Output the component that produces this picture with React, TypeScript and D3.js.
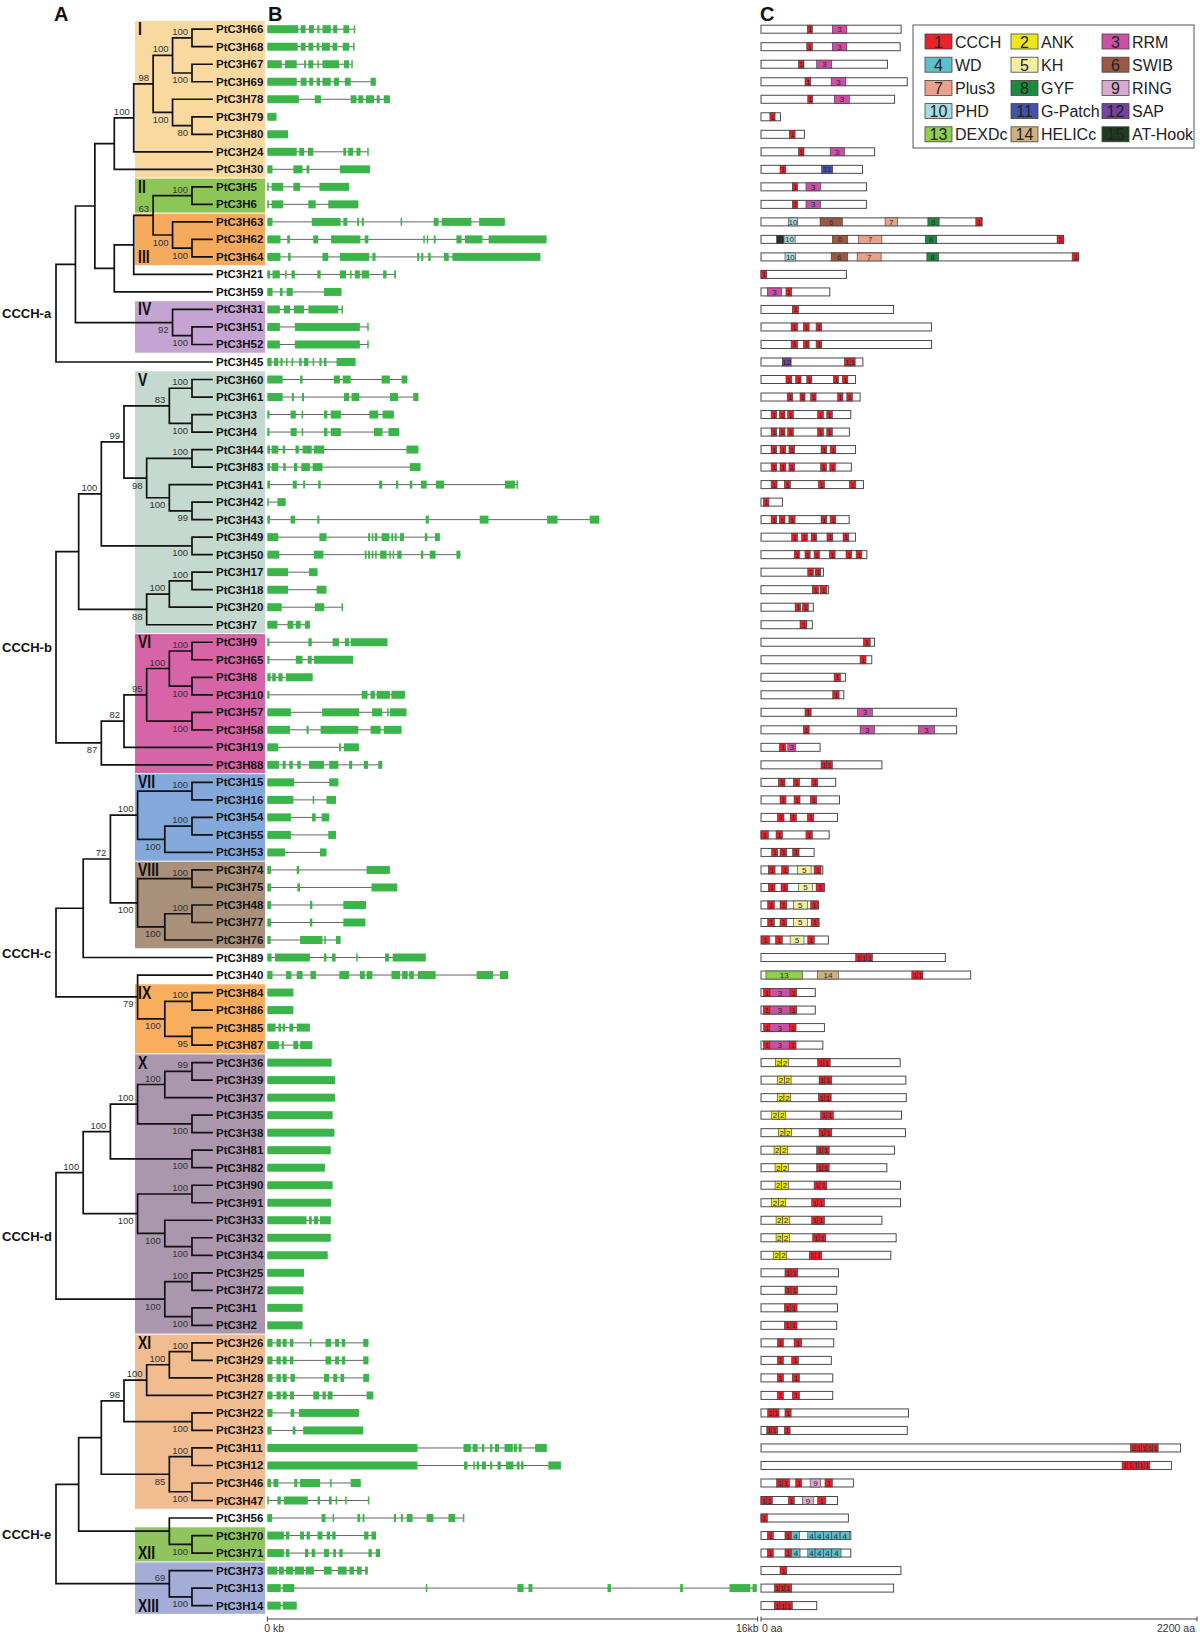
import React from 'react';
import * as d3 from 'd3';

// ---------------- DATA ----------------
const GENE_PREFIX = 'PtC3H';
const groupNames = ['CCCH-a', 'CCCH-b', 'CCCH-c', 'CCCH-d', 'CCCH-e'];
// Newick topologies with bootstrap support on internal nodes ("^" = label drawn above)
const groupTrees = [
  '((((((((66,68)100,(67,69)100)100,(78,(79,80)80)100)98,24)100,30),((((5,6)100,(63,(62,64)100)100)63,21),59)),(31,(51,52)100)92),45)',
  '((((((60,61)100,(3,4)100)83,((44,83)100,(41,(42,43)99)100)98)99,(49,50)100)100,(((17,18)100,20)100,7)88),(((((9,65)100,(8,10)100)100,(57,58)100)95,19)82,88)87)',
  '(((((15,16)100,((54,55)100,53)100)100,((74,75)100,((48,77)100,76)100)100)72,89),(40,((84,86)100,(85,87)95)100)79)',
  '((((((36,39)99,37)100,(35,38)100)100,(81,82)100)100,((90,91)100,(33,(32,34)100)100)100)100,((25,72)100,(1,2)100)100)',
  '(((((((26,29)100,28)100,27)100,(22,23)100)98,((11,12)100,(46,47)100)85),(56,(70,71)100)),(73,(13,14)100)69^)',
];

const cladeNames = ['I', 'II', 'III', 'IV', 'V', 'VI', 'VII', 'VIII', 'IX', 'X', 'XI', 'XII', 'XIII'];
const cladeFirst = ['66', '5', '63', '31', '60', '9', '15', '74', '84', '36', '26', '70', '73'];
const cladeLast = ['30', '6', '64', '52', '7', '88', '53', '76', '87', '2', '47', '71', '14'];
const cladeColors = ['#f9d9a0', '#8dc657', '#f6aa5e', '#c5a4d3', '#c4d9cf', '#d864a8', '#83a9da', '#a8907a', '#f9ae5d', '#aa97ae', '#f1bd90', '#90c45e', '#a4add7'];
const cladeLabelBottom = ['III', 'XII', 'XIII'];

const domainNames = ['CCCH', 'ANK', 'RRM', 'WD', 'KH', 'SWIB', 'Plus3', 'GYF', 'RING', 'PHD', 'G-Patch', 'SAP', 'DEXDc', 'HELICc', 'AT-Hook'];
const domainColors = ['#e8212b', '#ede61f', '#cd4fa6', '#5cc0cc', '#f2eea2', '#9b5944', '#eaa18b', '#1c8b3d', '#d8abce', '#abdadd', '#4453a9', '#7442a1', '#90cf4b', '#ceb17f', '#1f3b1f'];

// exon coordinates in kb
const geneExons: [string, string][] = [
  ['66', '0-1.01 1.09-1.25 1.36-1.52 1.63-1.7 1.8-2.07 2.15-2.28 2.48-2.67 2.82-2.86'],
  ['68', '0-0.99 1.09-1.25 1.34-1.5 1.61-1.7 1.78-2.04 2.13-2.28 2.46-2.67 2.8-2.84'],
  ['67', '0-0.47 0.58-0.96 1.2-1.26 1.34-1.5 1.63-1.67 1.8-2.34 2.5-2.67 2.74-2.77'],
  ['69', '0-0.96 1.09-1.28 1.37-1.5 1.61-1.72 1.8-2.07 2.17-2.34 2.53-2.72 3.37-3.54'],
  ['78', '0-1.03 1.55-1.75 2.72-2.91 2.97-3.13 3.22-3.48 3.57-3.67 3.8-4.0'],
  ['79', '0-0.3'],
  ['80', '0-0.68'],
  ['24', '0-0.96 1.04-1.2 1.32-1.5 2.48-2.57 2.64-2.8 2.91-3.04 3.26-3.3'],
  ['30', '0-0.17 0.85-1.15 1.28-1.37 2.37-3.35'],
  ['5', '0-0.05 0.14-0.52 0.85-1.07 1.7-2.67'],
  ['6', '0-0.05 0.14-0.52 1.34-1.58 1.99-2.97'],
  ['63', '0-0.17 1.45-2.39 2.48-2.61 2.93-2.99 3.08-3.15 4.35-4.4 5.43-5.59 5.69-6.66 6.91-7.75'],
  ['62', '0-0.43 0.65-0.74 1.5-1.66 2.08-3.04 3.18-3.3 5.09-5.13 5.2-5.24 5.43-5.49 6.17-6.34 6.45-7.02 7.22-9.11'],
  ['64', '0-0.43 0.68-0.76 1.8-1.99 2.37-3.32 3.43-3.53 4.89-4.96 5.02-5.09 5.25-5.33 5.76-5.92 6.04-8.91'],
  ['21', '0-0.09 0.17-0.41 0.58-0.63 0.79-0.9 1.63-1.74 2.37-2.57 2.7-2.75 2.86-3.02 3.08-3.32 3.78-3.89 4.14-4.2'],
  ['59', '0-0.17 0.41-0.5 0.63-0.83 1.85-2.42'],
  ['31', '0-0.41 0.54-0.74 0.87-1.2 1.34-2.32 2.42-2.45'],
  ['51', '0-0.41 0.9-3.02 3.26-3.3'],
  ['52', '0-0.41 0.9-3.02 3.26-3.3'],
  ['45', '0-0.14 0.22-0.36 0.43-0.5 0.61-0.65 0.79-0.83 1.04-1.12 1.2-1.34 1.48-1.52 1.7-1.77 1.85-1.93 2.26-2.88'],
  ['60', '0-0.5 1.07-1.15 2.17-2.37 2.46-2.72 3.73-4.0 4.38-4.57'],
  ['61', '0-0.5 0.8-0.87 1.13-1.2 2.5-2.67 2.75-3.0 4.0-4.27 4.76-4.93'],
  ['3', '0-0.07 0.76-0.93 1.12-1.17 1.85-1.96 2.07-2.4 3.33-3.62 3.76-4.13'],
  ['4', '0-0.07 0.76-0.96 1.12-1.17 1.85-1.96 2.07-2.4 3.48-3.76 3.95-4.3'],
  ['44', '0-0.09 0.14-0.36 0.5-0.58 0.92-1.03 1.15-1.45 1.52-1.86 4.54-4.93'],
  ['83', '0-0.09 0.14-0.36 0.52-0.6 0.87-0.98 1.11-1.39 1.48-1.8 4.65-5.0'],
  ['41', '0-0.09 0.83-0.96 1.17-1.23 1.66-1.74 3.65-3.75 4.2-4.27 4.65-4.73 5.01-5.2 5.5-5.77 7.75-8.08 8.13-8.18'],
  ['42', '0-0.03 0.33-0.6'],
  ['43', '0-0.09 0.76-0.91 1.63-1.7 5.17-5.27 6.93-7.22 9.13-9.47 10.52-10.83'],
  ['49', '0-0.36 1.7-1.93 3.29-3.35 3.41-3.46 3.51-3.59 3.73-3.98 4.05-4.11 4.16-4.22 4.33-4.46 5.14-5.22 5.47-5.63'],
  ['50', '0-0.39 1.52-1.83 3.18-3.24 3.29-3.35 3.41-3.46 3.52-3.57 3.68-3.89 3.98-4.03 4.09-4.14 4.24-4.38 5.01-5.09 5.3-5.49 6.17-6.3'],
  ['17', '0-0.68 1.36-1.64'],
  ['18', '0-0.68 1.61-1.93'],
  ['20', '0-0.47 1.55-1.86 2.42-2.46'],
  ['7', '0-0.33 0.66-0.85 0.93-1.09 1.23-1.39'],
  ['9', '0-0.07 1.34-1.45 2.13-2.34 2.53-2.67 2.72-3.92'],
  ['65', '0-0.07 0.93-1.15 1.32-1.45 1.52-2.8'],
  ['8', '0-0.11 0.16-0.28 0.36-0.5 0.61-1.48'],
  ['10', '0-0.07 3.08-3.27 3.37-3.51 3.57-4.0 4.05-4.49'],
  ['57', '0-0.77 1.79-3.0 3.42-3.75 3.91-3.95 4.0-4.54'],
  ['58', '0-0.74 1.28-1.35 1.74-2.97 3.37-3.7 3.8-4.38'],
  ['19', '0-0.36 2.34-2.4 2.5-2.99'],
  ['88', '0-0.38 0.5-0.6 0.72-0.83 0.98-1.09 1.36-1.85 2.02-2.32 2.67-2.77 3.15-3.29 3.62-3.75'],
  ['15', '0-0.88 2.02-2.32'],
  ['16', '0-0.85 1.48-1.53 1.93-2.24'],
  ['54', '0-0.77 1.46-1.58 1.77-2.02'],
  ['55', '0-0.77 1.99-2.24'],
  ['53', '0-0.58 1.72-1.93'],
  ['74', '0-0.12 0.96-1.04 3.24-4.0'],
  ['75', '0-0.12 0.98-1.07 3.4-4.24'],
  ['48', '0-0.12 1.39-1.47 2.48-3.22'],
  ['77', '0-0.12 1.39-1.47 2.48-3.2'],
  ['76', '0-0.11 1.07-1.8 1.86-1.9 2.24-2.39'],
  ['89', '0-0.14 0.25-1.39 1.85-1.93 2.11-2.23 2.9-2.93 3.84-3.97 4.09-5.17'],
  ['40', '0-0.17 0.61-0.79 0.96-1.15 1.41-1.59 2.35-2.67 3.02-3.18 3.24-3.43 4.05-4.33 4.4-4.58 4.63-4.78 4.91-5.49 6.83-7.37 7.59-7.86'],
  ['84', '0-0.85'],
  ['86', '0-0.85'],
  ['85', '0-0.27 0.36-0.45 0.5-0.58 0.72-0.85 0.96-1.39'],
  ['87', '0-0.38 0.47-0.54 0.85-1.01 1.07-1.47'],
  ['36', '0-2.1'],
  ['39', '0-2.21'],
  ['37', '0-2.21'],
  ['35', '0-2.13'],
  ['38', '0-2.19'],
  ['81', '0-2.07'],
  ['82', '0-1.88'],
  ['90', '0-2.13'],
  ['91', '0-2.08'],
  ['33', '0-1.28 1.36-1.45 1.52-1.66 1.72-2.07'],
  ['32', '0-2.07'],
  ['34', '0-1.97'],
  ['25', '0-1.2'],
  ['72', '0-1.18'],
  ['1', '0-1.15'],
  ['2', '0-1.15'],
  ['26', '0-0.17 0.3-0.44 0.5-0.63 0.74-0.85 1.39-1.43 1.9-2.08 2.21-2.34 2.43-2.54 3.13-3.3'],
  ['29', '0-0.17 0.3-0.44 0.5-0.63 0.74-0.85 1.9-2.08 2.21-2.34 2.43-2.54 3.13-3.3'],
  ['28', '0-0.17 0.3-0.44 0.5-0.63 0.76-0.9 1.85-2.02 2.15-2.28 2.39-2.51 3.13-3.32'],
  ['27', '0-0.17 0.3-0.44 0.5-0.63 0.74-0.87 1.5-1.69 1.8-1.91 1.97-2.13 3.24-3.46'],
  ['22', '0-0.17 0.76-0.88 1.03-2.99'],
  ['23', '0-0.14 0.83-0.92 1.17-3.13'],
  ['11', '0-4.9 6.4-6.64 6.7-6.86 7.0-7.08 7.27-7.34 7.43-7.56 7.74-8.01 8.05-8.14 8.2-8.3 8.74-9.12'],
  ['12', '0-4.9 6.42-6.53 6.72-6.77 6.83-6.91 7.0-7.13 7.27-7.34 7.51-7.62 7.79-8.03 8.14-8.23 8.28-8.36 9.17-9.58'],
  ['46', '0-0.12 0.2-0.36 0.88-0.98 1.07-1.72 2.05-2.1 2.72-3.05'],
  ['47', '0-0.05 0.33-0.44 0.54-1.32 1.64-1.72 2.01-2.1 2.23-2.28 2.54-2.59 3.28-3.31'],
  ['56', '0-0.16 1.77-1.9 2.13-2.18 2.94-3.03 3.11-3.17 4.13-4.2 4.36-4.42 4.55-4.74 5.2-5.42 5.91-6.13 6.38-6.42'],
  ['70', '0-0.54 0.61-0.72 1.07-1.2 1.28-1.39 1.64-1.8 1.94-2.05 2.12-2.23 3.16-3.3 3.4-3.55'],
  ['71', '0-0.54 0.61-0.72 1.23-1.34 1.45-1.56 1.85-2.01 2.15-2.24 2.35-2.46 3.3-3.41 3.54-3.68'],
  ['73', '0-0.33 0.38-0.54 0.61-0.85 0.9-1.2 1.25-1.52 1.85-2.1 2.3-2.59 2.68-2.83 2.92-3.08 3.19-3.28'],
  ['13', '0-0.44 0.5-0.88 5.17-5.2 8.16-8.36 8.52-8.65 11.1-11.21 13.47-13.56 15.08-15.76 15.83-15.97'],
  ['14', '0-0.44 0.5-0.96'],
];

// protein lengths in aa
const proteinLengths: [string, number][] = [
  ['66', 707], ['68', 702], ['67', 638], ['69', 738], ['78', 674], ['79', 98], ['80', 219], ['24', 573], ['30', 512],
  ['5', 532], ['6', 532], ['63', 1115], ['62', 1527], ['64', 1603], ['21', 431], ['59', 347], ['31', 669], ['51', 860],
  ['52', 860], ['45', 514], ['60', 477], ['61', 500], ['3', 453], ['4', 446], ['44', 477], ['83', 456], ['41', 517],
  ['42', 108], ['43', 445], ['49', 477], ['50', 534], ['17', 315], ['18', 340], ['20', 264], ['7', 259], ['9', 573],
  ['65', 559], ['8', 426], ['10', 418], ['57', 987], ['58', 987], ['19', 298], ['88', 610], ['15', 377], ['16', 396],
  ['54', 386], ['55', 344], ['53', 268], ['74', 312], ['75', 320], ['48', 290], ['77', 293], ['76', 340], ['89', 930],
  ['40', 1058], ['84', 274], ['86', 274], ['85', 320], ['87', 312], ['36', 702], ['39', 731], ['37', 733], ['35', 709],
  ['38', 729], ['81', 674], ['82', 635], ['90', 704], ['91', 704], ['33', 610], ['32', 682], ['34', 655], ['25', 391],
  ['72', 382], ['1', 386], ['2', 382], ['26', 367], ['29', 355], ['28', 362], ['27', 362], ['22', 744], ['23', 738],
  ['11', 2117], ['12', 2071], ['46', 466], ['47', 386], ['56', 441], ['70', 453], ['71', 453], ['73', 706], ['13', 669],
  ['14', 281],
];

// domains: "type:start-end" in aa
const proteinDomains: [string, string][] = [
  ['66', '1:234-259 3:360-433'],
  ['68', '1:231-259 3:360-433'],
  ['67', '1:189-217 3:281-357'],
  ['69', '1:222-251 3:354-428'],
  ['78', '1:236-261 3:370-446'],
  ['79', '1:45-71'],
  ['80', '1:143-172'],
  ['24', '1:189-217 3:349-421'],
  ['30', '1:96-125 11:306-362'],
  ['5', '1:158-185 3:227-300'],
  ['6', '1:158-185 3:227-300'],
  ['63', '10:138-184 6:298-411 7:626-689 8:842-899 1:1084-1115'],
  ['62', '15:79-113 10:116-172 6:360-438 7:492-610 8:829-887 1:1494-1527'],
  ['64', '10:121-175 6:354-438 7:485-606 8:837-896 1:1570-1603'],
  ['21', '1:0-29'],
  ['59', '3:32-104 1:126-155'],
  ['31', '1:158-189'],
  ['51', '1:152-184 1:214-243 1:278-306'],
  ['52', '1:152-184 1:214-243 1:278-306'],
  ['45', '12:108-152 1:421-450 1:450-475'],
  ['60', '1:126-155 1:175-202 1:231-256 1:365-391 1:411-438'],
  ['61', '1:133-160 1:197-222 1:251-278 1:387-413 1:433-461'],
  ['3', '1:51-79 1:93-121 1:135-163 1:286-315 1:332-360'],
  ['4', '1:51-79 1:93-121 1:135-163 1:286-315 1:332-360'],
  ['44', '1:51-79 1:96-125 1:141-170 1:303-332 1:349-377'],
  ['83', '1:51-79 1:96-125 1:141-170 1:301-330 1:347-375'],
  ['41', '1:51-81 1:118-148 1:290-320 1:446-478'],
  ['42', '1:12-40'],
  ['43', '1:51-79 1:93-121 1:141-172 1:303-332 1:349-377'],
  ['49', '1:155-184 1:205-234 1:253-281 1:333-362 1:414-443'],
  ['50', '1:168-194 1:222-248 1:268-295 1:345-374 1:429-458 1:480-509'],
  ['17', '1:236-264 1:273-301'],
  ['18', '1:259-290 1:298-332'],
  ['20', '1:172-200 1:210-239'],
  ['7', '1:197-231'],
  ['9', '1:517-551'],
  ['65', '1:500-530'],
  ['8', '1:369-401'],
  ['10', '1:362-394'],
  ['57', '1:222-253 3:487-562'],
  ['58', '1:214-243 3:500-573 3:795-876'],
  ['19', '1:93-125 3:135-175'],
  ['88', '1:303-332 1:332-360'],
  ['15', '1:88-121 1:163-194 1:256-286'],
  ['16', '1:96-126 1:167-197 1:249-281'],
  ['54', '1:83-116 1:147-179 1:234-266'],
  ['55', '1:0-37 1:76-108 1:227-259'],
  ['53', '1:54-84 1:96-130 1:160-192'],
  ['74', '1:37-71 1:104-138 5:184-253 1:268-303'],
  ['75', '1:37-71 1:101-135 5:189-259 1:278-317'],
  ['48', '1:34-67 1:96-130 5:163-234 1:251-286'],
  ['77', '1:34-67 1:96-130 5:163-234 1:253-290'],
  ['76', '1:3-42 1:74-108 5:147-217 1:236-269'],
  ['89', '1:478-505 1:505-534 1:534-562'],
  ['40', '13:25-209 14:285-391 1:761-790 1:790-817'],
  ['84', '1:12-45 3:45-147 1:147-180'],
  ['86', '1:12-45 3:45-147 1:147-180'],
  ['85', '1:12-45 3:45-143 1:143-177'],
  ['87', '1:12-45 3:45-143 1:143-177'],
  ['36', '2:74-104 2:104-138 1:286-318 1:318-349'],
  ['39', '2:84-118 2:118-152 1:293-323 1:323-357'],
  ['37', '2:82-116 2:116-150 1:290-320 1:320-354'],
  ['35', '2:54-88 2:88-125 1:301-332 1:332-365'],
  ['38', '2:88-121 2:121-155 1:293-323 1:323-357'],
  ['81', '2:66-99 2:99-135 1:281-312 1:312-344'],
  ['82', '2:71-104 2:104-138 1:281-312 1:312-344'],
  ['90', '2:71-104 2:104-138 1:268-298 1:298-332'],
  ['91', '2:54-88 2:88-125 1:256-286 1:286-320'],
  ['33', '2:76-109 2:109-143 1:256-286 1:286-320'],
  ['32', '2:76-109 2:109-143 1:261-293 1:293-327'],
  ['34', '2:62-96 2:96-130 1:244-276 1:276-306'],
  ['25', '1:121-152 1:152-185'],
  ['72', '1:121-152 1:152-185'],
  ['1', '1:118-148 1:148-182'],
  ['2', '1:118-148 1:148-182'],
  ['26', '1:83-113 1:167-205'],
  ['29', '1:83-113 1:155-189'],
  ['28', '1:83-113 1:158-194'],
  ['27', '1:83-113 1:158-194'],
  ['22', '1:34-62 1:62-91 1:121-152'],
  ['23', '1:29-54 1:54-83 1:118-147'],
  ['11', '1:1864-1892 1:1892-1920 1:1920-1948 1:1948-1976 1:1976-2004'],
  ['12', '1:1822-1850 1:1850-1878 1:1878-1906 1:1906-1934 1:1934-1962'],
  ['46', '1:79-109 1:109-143 1:175-205 9:248-301 1:323-360'],
  ['47', '1:0-29 1:29-57 1:138-168 9:209-264 1:286-327'],
  ['56', '1:0-32'],
  ['70', '1:32-62 1:121-152 4:155-194 4:236-273 4:273-315 4:315-357 4:357-396 4:400-446'],
  ['71', '1:32-62 1:121-152 4:155-197 4:236-273 4:273-315 4:315-357 4:357-404'],
  ['73', '1:96-130'],
  ['13', '1:67-93 1:93-121 1:121-155'],
  ['14', '1:67-96 1:96-126 1:126-158'],
];

const kbDomain = [0, 16];
const kbTickLabels = ['0 kb', '16kb'];
const aaDomain = [0, 2200];
const aaTickLabels = ['0 aa', '2200 aa'];
const panelLetters = ['A', 'B', 'C'];

// ---------------- HELPERS ----------------
type RawNode = { name: string; children?: RawNode[] };

function parseNewick(s: string): RawNode {
  let i = 0;
  const read = (): RawNode => {
    const node: RawNode = { name: '' };
    if (s[i] === '(') {
      i++;
      node.children = [];
      for (;;) {
        node.children.push(read());
        const c = s[i++];
        if (c !== ',') break;
      }
    }
    let name = '';
    while (i < s.length && s[i] !== ',' && s[i] !== ')' && s[i] !== '(') name += s[i++];
    node.name = name.trim();
    return node;
  };
  return read();
}

const parseRanges = (s: string) => s.split(' ').filter(Boolean).map(p => p.split('-').map(Number));
const parseDomains = (s: string) =>
  s.split(' ').filter(Boolean).map(p => {
    const [t, r] = p.split(':');
    const [a, b] = r.split('-').map(Number);
    return { type: Number(t), start: a, end: b };
  });

const FONT = 'Arial, "Liberation Sans", Helvetica, sans-serif';

export default function App() {
  const W = 1200;
  const H = 1635;

  const roots = groupTrees.map(s => d3.hierarchy<RawNode>(parseNewick(s)));
  const leafNames = roots.flatMap(r => r.leaves().map(l => l.data.name));
  const rowOf = new Map(leafNames.map((n, i) => [n, i] as [string, number]));
  const rowY = d3.scaleLinear().domain([0, leafNames.length - 1]).range([29.2, 1605.6]);
  const rowH = rowY(1) - rowY(0);
  const tipX = 212;

  const pos = new Map<any, { x: number; y: number }>();
  roots.forEach(r => {
    const hx = d3.scaleLinear().domain([1, r.height]).range([192, 56]);
    r.eachAfter(n => {
      if (!n.children) pos.set(n, { x: tipX, y: rowY(rowOf.get(n.data.name)!) });
      else pos.set(n, { x: hx(n.height), y: d3.mean(n.children, c => pos.get(c)!.y)! });
    });
  });

  const kb = d3.scaleLinear().domain(kbDomain).range([267.3, 757.7]);
  const aa = d3.scaleLinear().domain(aaDomain).range([761, 1197]);

  const exonMap = new Map(geneExons);
  const lenMap = new Map(proteinLengths);
  const domMap = new Map(proteinDomains);

  const treePaths = roots.map(r => {
    const p = d3.path();
    r.each(n => {
      if (!n.children) return;
      const np = pos.get(n)!;
      const ys = n.children.map(c => pos.get(c)!.y);
      p.moveTo(np.x, d3.min(ys)!);
      p.lineTo(np.x, d3.max(ys)!);
      n.children.forEach(c => {
        const cp = pos.get(c)!;
        p.moveTo(np.x, cp.y);
        p.lineTo(cp.x, cp.y);
      });
    });
    return p.toString();
  });

  const bootstraps: { x: number; y: number; t: string }[] = [];
  roots.forEach(r => {
    r.each(n => {
      if (!n.children || !n.data.name) return;
      const forced = n.data.name.endsWith('^');
      const t = n.data.name.replace('^', '');
      const above = forced || (n.parent ? n.parent.children![0] === n : true);
      const np = pos.get(n)!;
      bootstraps.push({ x: np.x - 4, y: above ? np.y - 3 : np.y + 10.5, t });
    });
  });

  const legendCols = [925, 1011, 1102];
  const axisY = 1619;

  return (
    <svg
      width={W}
      height={H}
      viewBox={`0 0 ${W} ${H}`}
      style={{ position: 'absolute', left: 0, top: 0, background: '#fff' }}
      fontFamily={FONT}
    >
      <rect x={0} y={0} width={W} height={H} fill="#fff" />

      {/* clade backgrounds */}
      {cladeNames.map((c, i) => {
        const r0 = rowOf.get(cladeFirst[i])!;
        const r1 = rowOf.get(cladeLast[i])!;
        const y0 = rowY(r0) - rowH / 2 + 0.5;
        const y1 = rowY(r1) + rowH / 2 - 0.5;
        return <rect key={c} x={135} y={y0} width={130} height={y1 - y0} fill={cladeColors[i]} />;
      })}
      {cladeNames.map((c, i) => {
        const bottom = cladeLabelBottom.includes(c);
        const r = rowOf.get(bottom ? cladeLast[i] : cladeFirst[i])!;
        const yy = rowY(r) + 6;
        return (
          <text
            key={'cl' + c}
            x={0}
            y={0}
            transform={`translate(138,${yy}) scale(0.8,1)`}
            fontSize={17.5}
            fontWeight="bold"
            fill="#111"
          >
            {c}
          </text>
        );
      })}

      {/* tree */}
      {treePaths.map((d, i) => (
        <path key={'t' + i} d={d} fill="none" stroke="#111" strokeWidth={1.7} strokeLinecap="square" />
      ))}
      {bootstraps.map((b, i) => (
        <text key={'b' + i} x={b.x} y={b.y} fontSize={9.5} textAnchor="end" fill="#333">
          {b.t}
        </text>
      ))}
      {roots.map((r, i) => (
        <text key={'g' + i} x={2} y={pos.get(r)!.y + 5} fontSize={13} fontWeight="bold" fill="#111">
          {groupNames[i]}
        </text>
      ))}
      {leafNames.map((n, i) => (
        <text key={'l' + n} x={216} y={rowY(i) + 4} fontSize={11.5} fontWeight="bold" fill="#111">
          {GENE_PREFIX + n}
        </text>
      ))}

      {/* gene structures */}
      {leafNames.map((n, i) => {
        const ex = parseRanges(exonMap.get(n) || '');
        if (!ex.length) return null;
        const y = rowY(i);
        const s = d3.min(ex, e => e[0])!;
        const e2 = d3.max(ex, e => e[1])!;
        return (
          <g key={'gs' + n}>
            <line x1={kb(s)} x2={kb(e2)} y1={y} y2={y} stroke="#666" strokeWidth={1} />
            {ex.map((e, j) => (
              <rect key={j} x={kb(e[0])} y={y - 4} width={Math.max(1.5, kb(e[1]) - kb(e[0]))} height={8} fill="#3bb54a" />
            ))}
          </g>
        );
      })}

      {/* proteins */}
      {leafNames.map((n, i) => {
        const len = lenMap.get(n);
        if (len == null) return null;
        const y = rowY(i);
        const doms = parseDomains(domMap.get(n) || '');
        return (
          <g key={'pr' + n}>
            <rect x={aa(0)} y={y - 4} width={aa(len) - aa(0)} height={8} fill="#fff" stroke="#4a4a4a" strokeWidth={1} />
            {doms.map((d, j) => {
              const x0 = aa(d.start);
              const w = aa(d.end) - aa(d.start);
              return (
                <g key={j}>
                  <rect x={x0} y={y - 4} width={w} height={8} fill={domainColors[d.type - 1]} stroke="#3a3a3a" strokeWidth={0.6} />
                  <text x={x0 + w / 2} y={y + 3} fontSize={8} textAnchor="middle" fill="#2a2a2a">
                    {d.type}
                  </text>
                </g>
              );
            })}
          </g>
        );
      })}

      {/* legend */}
      <rect x={913} y={25} width={281} height={123} fill="#fff" stroke="#555" strokeWidth={1} />
      {domainNames.map((name, i) => {
        const col = i % 3;
        const row = Math.floor(i / 3);
        const sx = legendCols[col];
        const cy = 41.5 + row * 23.2;
        return (
          <g key={'lg' + name}>
            <rect x={sx} y={cy - 7.5} width={27} height={15} fill={domainColors[i]} stroke="#444" strokeWidth={0.8} />
            <text x={sx + 13.5} y={cy + 6} fontSize={16} textAnchor="middle" fill="#222">
              {i + 1}
            </text>
            <text x={sx + 30} y={cy + 6} fontSize={16} fill="#222">
              {name}
            </text>
          </g>
        );
      })}

      {/* axes */}
      <g stroke="#444" strokeWidth={1}>
        <line x1={kb(kbDomain[0])} x2={kb(kbDomain[1])} y1={axisY} y2={axisY} />
        <line x1={kb(kbDomain[0])} x2={kb(kbDomain[0])} y1={axisY - 2.5} y2={axisY + 2.5} />
        <line x1={kb(kbDomain[1])} x2={kb(kbDomain[1])} y1={axisY - 2.5} y2={axisY + 2.5} />
        <line x1={aa(aaDomain[0])} x2={aa(aaDomain[1])} y1={axisY} y2={axisY} />
        <line x1={aa(aaDomain[0])} x2={aa(aaDomain[0])} y1={axisY - 2.5} y2={axisY + 2.5} />
        <line x1={aa(aaDomain[1])} x2={aa(aaDomain[1])} y1={axisY - 2.5} y2={axisY + 2.5} />
      </g>
      <text x={kb(kbDomain[0]) - 3} y={axisY + 13} fontSize={10.5} fill="#333">{kbTickLabels[0]}</text>
      <text x={kb(kbDomain[1]) + 1} y={axisY + 13} fontSize={10.5} fill="#333" textAnchor="end">{kbTickLabels[1]}</text>
      <text x={aa(aaDomain[0]) + 1} y={axisY + 13} fontSize={10.5} fill="#333">{aaTickLabels[0]}</text>
      <text x={aa(aaDomain[1]) - 2} y={axisY + 13} fontSize={10.5} fill="#333" textAnchor="end">{aaTickLabels[1]}</text>

      {/* panel letters */}
      <text x={54} y={21} fontSize={20} fontWeight="bold" fill="#111">{panelLetters[0]}</text>
      <text x={268} y={21} fontSize={20} fontWeight="bold" fill="#111">{panelLetters[1]}</text>
      <text x={760} y={21} fontSize={20} fontWeight="bold" fill="#111">{panelLetters[2]}</text>
    </svg>
  );
}
